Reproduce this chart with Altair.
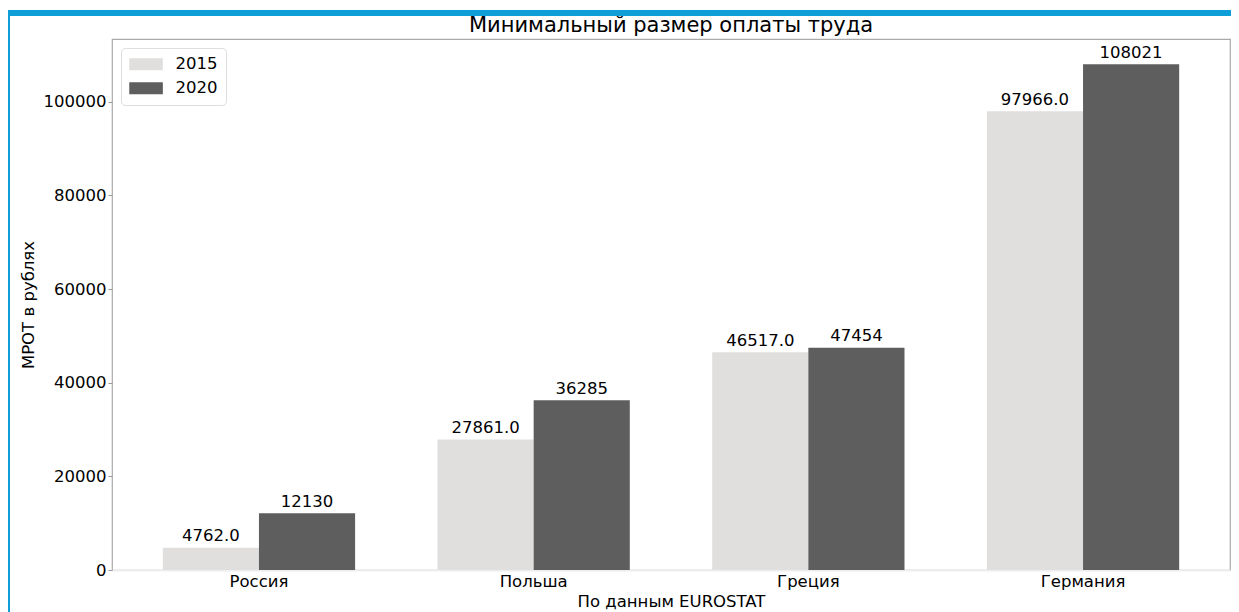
import altair as alt
import pandas as pd

countries = ["Россия", "Польша", "Греция", "Германия"]
years = ["2015", "2020"]
values_2015 = [4762.0, 27861.0, 46517.0, 97966.0]
values_2020 = [12130, 36285, 47454, 108021]
y_ticks = [0, 20000, 40000, 60000, 80000, 100000]
title_text = "Минимальный размер оплаты труда"

rows = []
for c, v in zip(countries, values_2015):
    rows.append({"country": c, "year": "2015", "value": v, "label": f"{v:.1f}"})
for c, v in zip(countries, values_2020):
    rows.append({"country": c, "year": "2020", "value": v, "label": f"{v:d}"})
df = pd.DataFrame(rows)

FONT = "DejaVu Sans"
FS = 16.5
W, H = 1118, 531

x = alt.X("country:N", sort=countries,
          scale=alt.Scale(paddingInner=0.3, paddingOuter=0.185),
          axis=alt.Axis(title="По данным EUROSTAT", labelAngle=0, ticks=False,
                        domainColor="#eeeeee", domainWidth=2,
                        labelPadding=3, titlePadding=4))
xoff = alt.XOffset("year:N", sort=years, scale=alt.Scale(paddingInner=0, paddingOuter=0))
y = alt.Y("value:Q", scale=alt.Scale(domain=[0, 113422], nice=False),
          axis=alt.Axis(title="МРОТ в рублях", values=y_ticks, format="d", grid=False,
                        domain=False, tickSize=4, tickColor="#999999",
                        labelPadding=2, titlePadding=7))

bars = alt.Chart(df).mark_bar().encode(
    x=x, xOffset=xoff, y=y,
    color=alt.Color("year:N", sort=years,
                    scale=alt.Scale(domain=years, range=["#e0dfde", "#5e5e5e"]),
                    legend=alt.Legend(title=None, orient="top-left", offset=9, padding=8,
                                      fillColor="white", strokeColor="#dddddd",
                                      cornerRadius=4, labelFont=FONT, labelFontSize=FS,
                                      labelColor="black", labelOffset=30,
                                      symbolType="M-1,-0.75L3.2,-0.75L3.2,0.75L-1,0.75Z",
                                      symbolSize=256, symbolStrokeWidth=0,
                                      symbolOpacity=1, rowPadding=7)),
)

labels = alt.Chart(df).mark_text(baseline="alphabetic", dy=-6.5, font=FONT,
                                 fontSize=FS, color="black").encode(
    x=x, xOffset=xoff, y=y, text="label:N"
)

deco = alt.Data(values=[{"t": title_text}])
title_mark = alt.Chart(deco).mark_text(font=FONT, fontSize=21, color="black",
                                       baseline="alphabetic", align="center").encode(
    x=alt.value(W / 2), y=alt.value(-7), text="t:N"
)
top_rule = alt.Chart(deco).mark_rule(color="#0e9fd8", strokeWidth=6).encode(
    x=alt.value(-108), x2=alt.value(W + 10), y=alt.value(-26)
)
left_rule = alt.Chart(deco).mark_rule(color="#0e9fd8", strokeWidth=6).encode(
    x=alt.value(-105), y=alt.value(-29), y2=alt.value(H + 50)
)

chart = alt.layer(bars, labels, title_mark, top_rule, left_rule).properties(
    width=W, height=H,
    autosize=alt.AutoSizeParams(type="none"),
    padding={"left": 104, "top": 31, "right": 1, "bottom": 42},
).configure_view(stroke="#aaaaaa", strokeWidth=1.2).configure_axis(
    labelFont=FONT, labelFontSize=FS, labelColor="black",
    titleFont=FONT, titleFontSize=FS, titleFontWeight="normal", titleColor="black",
)

chart.save("out.html", embed_options={"renderer": "svg", "actions": False})
